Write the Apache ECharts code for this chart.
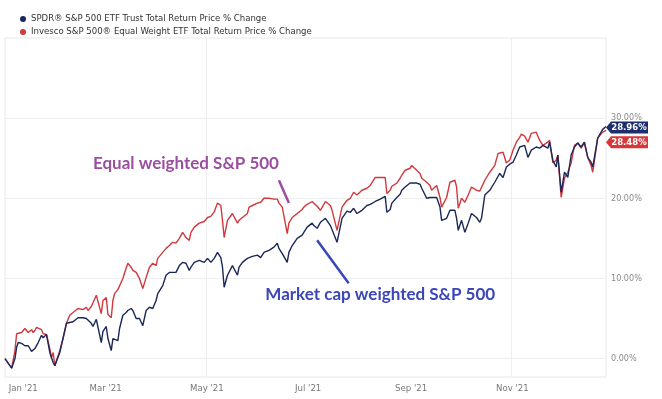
<!DOCTYPE html>
<html>
<head>
<meta charset="utf-8">
<script src="https://cdn.jsdelivr.net/npm/echarts@6/dist/echarts.min.js"></script>
<style>html,body{margin:0;padding:0;background:#fff}#c{width:662px;height:399px}</style>
</head>
<body>
<div id="c"></div>
<script>
const seriesNames = ["SPDR\u00AE S&P 500 ETF Trust Total Return Price % Change", "Invesco S&P 500\u00AE Equal Weight ETF Total Return Price % Change"];

const dates = ['2020-12-31','2021-01-04','2021-01-06','2021-01-07','2021-01-08','2021-01-10','2021-01-12','2021-01-14','2021-01-16','2021-01-17','2021-01-18','2021-01-19','2021-01-20','2021-01-22','2021-01-23','2021-01-25','2021-01-27','2021-01-28','2021-01-29','2021-01-30',
'2021-02-02','2021-02-04','2021-02-06','2021-02-08','2021-02-10','2021-02-13','2021-02-16','2021-02-18','2021-02-19','2021-02-21','2021-02-22','2021-02-24','2021-02-27','2021-02-28',
'2021-03-02','2021-03-03','2021-03-05','2021-03-06','2021-03-07','2021-03-09','2021-03-10','2021-03-12','2021-03-14','2021-03-15','2021-03-17','2021-03-18','2021-03-20','2021-03-22','2021-03-24','2021-03-26','2021-03-28','2021-03-30',
'2021-04-01','2021-04-02','2021-04-05','2021-04-07','2021-04-09','2021-04-11','2021-04-13','2021-04-15','2021-04-17','2021-04-19','2021-04-21','2021-04-22','2021-04-24','2021-04-27','2021-04-30',
'2021-05-02','2021-05-04','2021-05-06','2021-05-08','2021-05-10','2021-05-11','2021-05-12','2021-05-14','2021-05-17','2021-05-18','2021-05-20','2021-05-21','2021-05-23','2021-05-26','2021-05-27','2021-05-29',
'2021-06-01','2021-06-03','2021-06-05','2021-06-08','2021-06-11','2021-06-13','2021-06-14','2021-06-16','2021-06-19','2021-06-20','2021-06-22','2021-06-25','2021-06-28','2021-06-29',
'2021-07-01','2021-07-04','2021-07-05','2021-07-07','2021-07-09','2021-07-12','2021-07-13','2021-07-15','2021-07-16','2021-07-19','2021-07-22','2021-07-25','2021-07-27','2021-07-29','2021-07-31',
'2021-08-03','2021-08-06','2021-08-08','2021-08-11','2021-08-14','2021-08-17','2021-08-18','2021-08-20','2021-08-21','2021-08-24','2021-08-26','2021-08-27','2021-08-29',
'2021-09-01','2021-09-02','2021-09-05','2021-09-07','2021-09-08','2021-09-11','2021-09-13','2021-09-14','2021-09-17','2021-09-19','2021-09-20','2021-09-23','2021-09-25','2021-09-28','2021-09-29','2021-09-30',
'2021-10-02','2021-10-04','2021-10-06','2021-10-08','2021-10-11','2021-10-13','2021-10-14','2021-10-16','2021-10-19','2021-10-22','2021-10-24','2021-10-25','2021-10-27','2021-10-29','2021-10-31',
'2021-11-02','2021-11-04','2021-11-06','2021-11-07','2021-11-09','2021-11-11','2021-11-13','2021-11-16','2021-11-18','2021-11-20','2021-11-23','2021-11-24','2021-11-26','2021-11-28','2021-11-29',
'2021-12-01','2021-12-03','2021-12-05','2021-12-07','2021-12-09','2021-12-11','2021-12-13','2021-12-15','2021-12-17','2021-12-19','2021-12-20','2021-12-23','2021-12-26','2021-12-28'];

const equalWeight = [0,-1.2,1.0,3.1,3.2,3.25,3.75,3.25,3.6,3.25,3.5,3.9,4.1,3.6,3.1,3.0,1.25,0.1,0.75,-0.9,
1.0,2.5,4.4,5.4,5.75,6.25,6.1,6.4,6.0,6.5,6.6,7.9,5.6,7.25,
7.6,5.5,5.1,7.25,8.1,8.6,8.6,10.0,11.3,11.9,11.4,11.0,10.75,10.0,8.75,10.1,11.4,11.9,
11.6,12.5,13.25,13.75,14.1,14.5,14.4,15.0,15.75,15.1,14.75,15.75,16.4,16.9,17.1,
17.6,17.75,18.3,19.4,19.1,17.25,15.1,17.25,18.1,18.25,16.9,17.25,17.6,18.1,18.9,19.1,
19.4,19.5,20.0,20.0,19.9,19.9,19.4,18.9,15.6,16.9,17.6,18.1,18.6,18.9,
19.25,19.6,19.4,19.0,18.5,19.6,19.6,19.1,18.5,16.0,18.9,19.75,20.0,20.75,20.4,
21.0,21.25,21.6,22.6,22.6,22.6,20.6,21.0,21.5,21.9,22.5,22.9,23.5,
23.75,24.1,23.5,23.1,22.5,22.0,21.6,21.0,21.6,20.1,18.9,20.1,22.0,22.25,21.4,18.75,
20.0,19.5,20.4,21.4,21.0,20.9,20.75,22.25,23.25,24.1,25.6,25.7,25.75,24.4,24.75,
26.0,27.0,27.6,28.0,27.75,27.0,28.1,28.25,27.25,26.6,27.0,27.25,24.4,24.75,25.4,
20.1,22.5,23.25,24.4,26.6,26.9,26.25,26.9,25.1,24.1,23.25,27.5,28.25,28.48];

const spdr = [0,-1.2,0.0,1.4,2.0,1.9,1.6,1.6,0.9,0.75,1.25,1.4,2.0,2.9,2.6,3.0,0.75,0.1,-0.5,-0.9,
0.75,2.6,4.4,4.5,4.6,5.1,5.1,5.0,4.9,4.4,4.0,4.9,2.0,3.4,
4.0,2.5,1.0,2.5,2.6,2.25,3.75,5.4,5.75,6.0,6.25,6.0,5.0,5.0,4.1,6.0,6.4,6.25,
7.25,8.1,9.1,10.4,10.75,10.75,10.75,11.6,12.0,11.9,11.0,11.4,12.0,12.25,12.0,
12.5,12.0,12.5,13.25,12.6,11.4,8.9,10.4,11.6,11.4,10.4,11.4,12.0,12.5,12.6,12.75,
12.9,12.6,13.25,13.5,13.9,14.4,13.75,13.1,12.0,13.25,14.1,15.0,15.4,15.75,
16.4,16.9,16.6,16.25,17.0,17.5,17.6,16.6,16.4,14.5,17.5,18.4,18.25,18.75,18.1,
18.5,19.1,19.25,19.6,19.9,20.25,18.25,18.6,19.4,20.1,20.5,21.0,21.4,
21.9,22.0,21.9,21.75,21.25,20.0,20.1,20.0,20.1,18.9,17.25,17.5,18.5,18.5,17.5,16.0,
17.25,15.75,16.9,18.1,17.6,17.0,17.5,20.4,21.0,22.0,22.75,23.1,22.6,23.9,24.25,
24.5,25.4,26.4,26.5,26.6,25.1,26.0,26.4,26.25,26.6,26.25,27.0,24.75,23.9,25.4,
20.75,23.25,22.6,25.4,26.4,26.9,26.4,27.0,25.1,24.5,23.9,27.5,28.6,28.96];

const yTicks = [0, 10, 20, 30];
const tickDates = ['2021-01-01','2021-03-01','2021-05-01','2021-07-01','2021-09-01','2021-11-01'];
const tickLabels = ["Jan '21","Mar '21","May '21","Jul '21","Sep '21","Nov '21"];
const gridDates = ['2021-05-01','2021-11-01'];

const annotations = [
  {text: 'Equal weighted S&P 500', at: ['2021-04-19', 24.4], from: ['2021-06-14', 22.25], to: ['2021-06-20', 19.4], color: '#9b4fa0'},
  {text: 'Market cap weighted S&P 500', at: ['2021-08-14', 8.0], from: ['2021-07-07', 14.75], to: ['2021-07-26', 9.4], color: '#3b46b8'}
];

function t(s){ const p = s.split('-').map(Number); return new Date(p[0], p[1]-1, p[2]).getTime(); }

const narrow = "'Liberation Sans Narrow','DejaVu Sans Condensed',Roboto,sans-serif";
const BLUE = '#1b2757', RED = '#d0393d';

const blueData = dates.map((d,i)=>[t(d), spdr[i]]);
const redData = dates.map((d,i)=>[t(d), equalWeight[i]]);
const last = dates.length - 1;
const tickTimes = tickDates.map(t);

function endTag(value, color, dy){
  return {
    symbol: 'path://M0,6L5,0L42,0L42,12L5,12Z',
    symbolSize: [42, 12],
    symbolKeepAspect: false,
    silent: true,
    data: [{coord: [t(dates[last]), value], symbolOffset: [21, dy],
      itemStyle: {color: color},
      label: {show: true, position: 'inside', offset: [2, 0], color: '#fff', fontWeight: 'bold', fontSize: 9.5, fontFamily: narrow,
        formatter: value.toFixed(2) + '%'}}]
  };
}

const chart = echarts.init(document.getElementById('c'), null, {renderer: 'canvas'});
chart.setOption({
  animation: false,
  backgroundColor: '#fff',
  legend: {
    data: seriesNames,
    orient: 'vertical', left: 15, top: 9, itemGap: 3,
    icon: 'circle', itemWidth: 6, itemHeight: 6,
    textStyle: {fontSize: 9.5, color: '#333', fontFamily: narrow},
    selectedMode: false
  },
  grid: {left: 5, right: 56, top: 38, bottom: 22, show: true, borderColor: '#e8e8e8', borderWidth: 1},
  xAxis: {
    type: 'value', min: t('2020-12-31'), max: t(dates[last]),
    axisLine: {show: false}, axisTick: {show: false}, splitLine: {show: false},
    axisLabel: {
      customValues: tickTimes,
      alignMinLabel: 'left',
      formatter: function(v){ const i = tickTimes.indexOf(v); return i >= 0 ? tickLabels[i] : ''; },
      color: '#777', fontSize: 9.5, fontFamily: narrow, margin: 7, padding: [0, 0, 0, 2]
    }
  },
  yAxis: {
    type: 'value', position: 'right', min: -2.3, max: 40,
    axisLine: {show: false}, axisTick: {show: false}, splitLine: {show: false},
    axisLabel: {
      customValues: yTicks,
      formatter: function(v){ return v.toFixed(2) + '%'; },
      color: '#8a8a8a', fontSize: 9, fontFamily: narrow, margin: 5, padding: [0,0,8,0]
    }
  },
  series: [
    {
      name: seriesNames[1], type: 'line', data: redData, showSymbol: false, z: 3,
      color: RED, lineStyle: {color: RED, width: 1.4},
      markLine: {
        silent: true, symbol: 'none', z: 1, animation: false,
        label: {show: false},
        lineStyle: {color: '#eeeeee', width: 1, type: 'solid'},
        data: yTicks.map(v=>({yAxis: v})).concat(gridDates.map(d=>({xAxis: t(d)})))
      },
      markPoint: endTag(equalWeight[last], '#d6383a', 12)
    },
    {
      name: seriesNames[0], type: 'line', data: blueData, showSymbol: false, z: 4,
      color: BLUE, lineStyle: {color: BLUE, width: 1.4},
      markPoint: endTag(spdr[last], '#1c2e6e', 1)
    },
    {
      name: 'annotations', type: 'line', data: [], z: 5,
      markLine: {
        silent: true, symbol: 'none', label: {show: false},
        data: annotations.map(a=>[
          {coord: [t(a.from[0]), a.from[1]], lineStyle: {color: a.color, width: 2.5, type: 'solid'}},
          {coord: [t(a.to[0]), a.to[1]]}
        ])
      },
      markPoint: {
        silent: true, symbol: 'circle', symbolSize: 1,
        itemStyle: {color: 'rgba(0,0,0,0)'},
        data: annotations.map(a=>({
          coord: [t(a.at[0]), a.at[1]],
          label: {show: true, position: 'inside', formatter: a.text, color: a.color,
            fontSize: 17, fontWeight: 'bold', fontFamily: 'Lato, "Open Sans", sans-serif'}
        }))
      }
    }
  ]
});
</script>
</body>
</html>
